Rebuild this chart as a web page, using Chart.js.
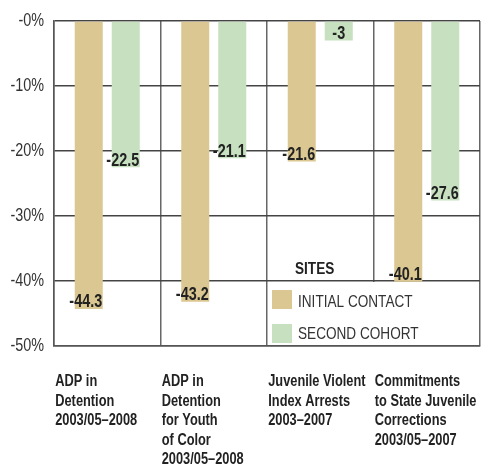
<!DOCTYPE html>
<html>
<head>
<meta charset="utf-8">
<script src="https://cdn.jsdelivr.net/npm/chart.js@4.4.1/dist/chart.umd.min.js"></script>
<style>
  html, body { margin: 0; padding: 0; background: #fff; }
</style>
</head>
<body>
<canvas id="chart" width="484" height="474"></canvas>
<script>
const categories = [
  ["ADP in", "Detention", "2003/05–2008"],
  ["ADP in", "Detention", "for Youth", "of Color", "2003/05–2008"],
  ["Juvenile Violent", "Index Arrests", "2003–2007"],
  ["Commitments", "to State Juvenile", "Corrections", "2003/05–2007"]
];
const initialContact = [-44.3, -43.2, -21.6, -40.1];
const secondCohort = [-22.5, -21.1, -3, -27.6];
const yTicks = [0, -10, -20, -30, -40, -50];
const legendTitle = "SITES";
const seriesNames = ["INITIAL CONTACT", "SECOND COHORT"];

const FONT = '"Liberation Sans", Arial, sans-serif';
const SQUEEZE = 0.8; // no condensed font installed, so squeeze text horizontally

const canvas = document.getElementById('chart');
const c2d = canvas.getContext('2d');
const baseFillText = CanvasRenderingContext2D.prototype.fillText;
c2d.fillText = function (text, x, y) {
  this.save();
  this.translate(x, y);
  this.scale(SQUEEZE, 1);
  baseFillText.call(this, text, 0, 0);
  this.restore();
};

// numbers at the end of each bar
const valueLabels = {
  id: 'valueLabels',
  afterDatasetsDraw(chart) {
    const ctx = chart.ctx;
    ctx.save();
    ctx.font = 'bold 18px ' + FONT;
    ctx.fillStyle = '#222';
    ctx.textAlign = 'center';
    ctx.textBaseline = 'alphabetic';
    chart.data.datasets.forEach((ds, i) => {
      chart.getDatasetMeta(i).data.forEach((bar, j) => {
        const v = ds.data[j];
        const dx = String(v).length > 2 ? -3 : 0;
        ctx.fillText(String(v), bar.x + dx, bar.y - 1.5);
      });
    });
    ctx.restore();
  }
};

// legend box sitting in the bottom right cells of the grid
const sitesLegend = {
  id: 'sitesLegend',
  beforeDatasetsDraw(chart) {
    const {ctx, chartArea: a, scales: {y}} = chart;
    const x0 = a.left + a.width / 2;
    const y0 = y.getPixelForValue(-40);
    ctx.save();
    ctx.fillStyle = '#fff';
    ctx.fillRect(x0 + 1, y0 + 1, a.right - x0 - 2, a.bottom - y0 - 2);
    ctx.restore();
  },
  afterDraw(chart) {
    const {ctx, chartArea: a, scales: {y}} = chart;
    const x0 = a.left + a.width / 2;
    const y0 = y.getPixelForValue(-40);
    ctx.save();
    ctx.fillStyle = '#222';
    ctx.textAlign = 'left';
    ctx.textBaseline = 'alphabetic';
    ctx.font = 'bold 17px ' + FONT;
    ctx.fillText(legendTitle, x0 + 28, y0 - 7);
    ctx.font = '17px ' + FONT;
    const rows = [y0 + 9, y0 + 43];
    chart.data.datasets.forEach((ds, i) => {
      ctx.fillStyle = ds.backgroundColor;
      ctx.fillRect(x0 + 5, rows[i], 20, 19);
      ctx.fillStyle = '#333';
      ctx.fillText(seriesNames[i], x0 + 31, rows[i] + 17 - i * 2);
    });
    ctx.restore();
  }
};

new Chart(canvas, {
  type: 'bar',
  data: {
    labels: categories,
    datasets: [
      {
        label: seriesNames[0],
        data: initialContact,
        backgroundColor: '#dbc792',
        categoryPercentage: 0.695,
        barPercentage: 0.757
      },
      {
        label: seriesNames[1],
        data: secondCohort,
        backgroundColor: '#c6e0c0',
        categoryPercentage: 0.695,
        barPercentage: 0.757
      }
    ]
  },
  options: {
    responsive: false,
    animation: false,
    layout: { padding: { top: 21, right: 4, left: 0, bottom: 0 } },
    scales: {
      x: {
        grid: { color: '#666', lineWidth: 1.5, drawTicks: false },
        border: { color: '#555', width: 1.5 },
        ticks: {
          align: 'start',
          labelOffset: -52,
          padding: 26,
          autoSkip: false,
          maxRotation: 0,
          minRotation: 0,
          color: '#222',
          font: { family: FONT, size: 16, weight: 'bold', lineHeight: 1.22 }
        },
        afterFit(scale) {
          scale.height = 128;
          scale.paddingLeft = 0;
          scale.paddingRight = 0;
        }
      },
      y: {
        min: -50,
        max: 0,
        grid: { color: '#444', lineWidth: 1.5, drawTicks: false },
        border: { color: '#555', width: 1.5 },
        afterBuildTicks(scale) {
          scale.ticks = yTicks.map(v => ({ value: v }));
        },
        ticks: {
          padding: 10,
          color: '#333',
          font: { family: FONT, size: 18 },
          callback: v => (v === 0 ? '-0' : v) + '%'
        },
        afterFit(scale) {
          scale.width = 54;
        }
      }
    },
    plugins: {
      legend: { display: false },
      tooltip: { enabled: false }
    }
  },
  plugins: [sitesLegend, valueLabels]
});
</script>
</body>
</html>
